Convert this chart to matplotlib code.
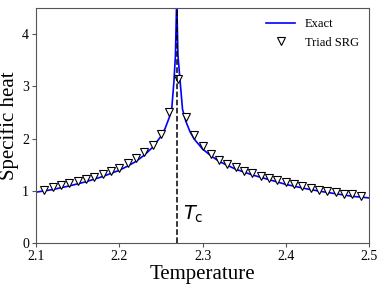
import matplotlib
matplotlib.use("Agg")
import matplotlib.pyplot as plt

# Exact (Onsager) curve
T_exact = [2.10, 2.12, 2.14, 2.16, 2.18, 2.20, 2.21, 2.22, 2.23, 2.24, 2.25,
           2.255, 2.26, 2.263, 2.2657, 2.2675, 2.269, 2.2705, 2.2729, 2.276,
           2.28, 2.285, 2.29, 2.30, 2.31, 2.32, 2.34, 2.36, 2.38, 2.40, 2.42,
           2.44, 2.46, 2.48, 2.50]
C_exact = [0.97, 1.02, 1.09, 1.17, 1.27, 1.39, 1.47, 1.56, 1.68, 1.83, 2.04,
           2.19, 2.40, 2.56, 3.10, 3.60, 4.70, 3.60, 3.14, 2.56,
           2.33, 2.13, 1.99, 1.80, 1.67, 1.56, 1.41, 1.30, 1.21, 1.12, 1.05,
           0.99, 0.94, 0.89, 0.86]

# Triad SRG points
T_srg = [2.11, 2.12, 2.13, 2.14, 2.15, 2.16, 2.17, 2.18, 2.19, 2.20,
         2.21, 2.22, 2.23, 2.24, 2.25, 2.26, 2.27, 2.28, 2.29, 2.30,
         2.31, 2.32, 2.33, 2.34, 2.35, 2.36, 2.37, 2.38, 2.39, 2.40,
         2.41, 2.42, 2.43, 2.44, 2.45, 2.46, 2.47, 2.48, 2.49]
C_srg = [1.02, 1.06, 1.10, 1.14, 1.18, 1.22, 1.27, 1.32, 1.38, 1.44,
         1.53, 1.62, 1.74, 1.88, 2.09, 2.51, 3.14, 2.41, 2.06, 1.85,
         1.71, 1.59, 1.51, 1.45, 1.38, 1.34, 1.29, 1.24, 1.20, 1.16,
         1.12, 1.08, 1.05, 1.02, 0.99, 0.97, 0.94, 0.93, 0.90]

Tc = 2.269

fig = plt.figure(figsize=(3.81, 2.86), dpi=100)
ax = fig.add_axes([0.0945, 0.1514, 0.874, 0.8196])

ax.plot(T_exact, C_exact, color="blue", lw=1.2, label="Exact")
ax.plot(T_srg, C_srg, "v", ms=5.6, mfc="white", mec="black", mew=0.8,
        label="Triad SRG")
ax.axvline(Tc, color="black", ls="--", lw=1.1)
ax.text(2.277, 0.44, r"$T_\mathrm{c}$", fontsize=14)

ax.set_xlim(2.1, 2.5)
ax.set_ylim(0, 4.5)
ax.set_xticks([2.1, 2.2, 2.3, 2.4, 2.5])
ax.set_yticks([0, 1, 2, 3, 4])

serif = "Liberation Serif"
for lab in ax.get_xticklabels() + ax.get_yticklabels():
    lab.set_fontfamily(serif)
    lab.set_fontsize(10)
ax.set_xlabel("Temperature", family=serif, fontsize=15, labelpad=2)
ax.set_ylabel("Specific heat", family=serif, fontsize=15, labelpad=2)

for s in ax.spines.values():
    s.set_color("#555555")
ax.tick_params(colors="#555555", labelcolor="black", length=3, pad=2)

ax.legend(loc="upper right", frameon=False, prop={"family": serif, "size": 9},
          handlelength=2.3, borderaxespad=0.4)

fig.savefig("out.png", dpi=100)
